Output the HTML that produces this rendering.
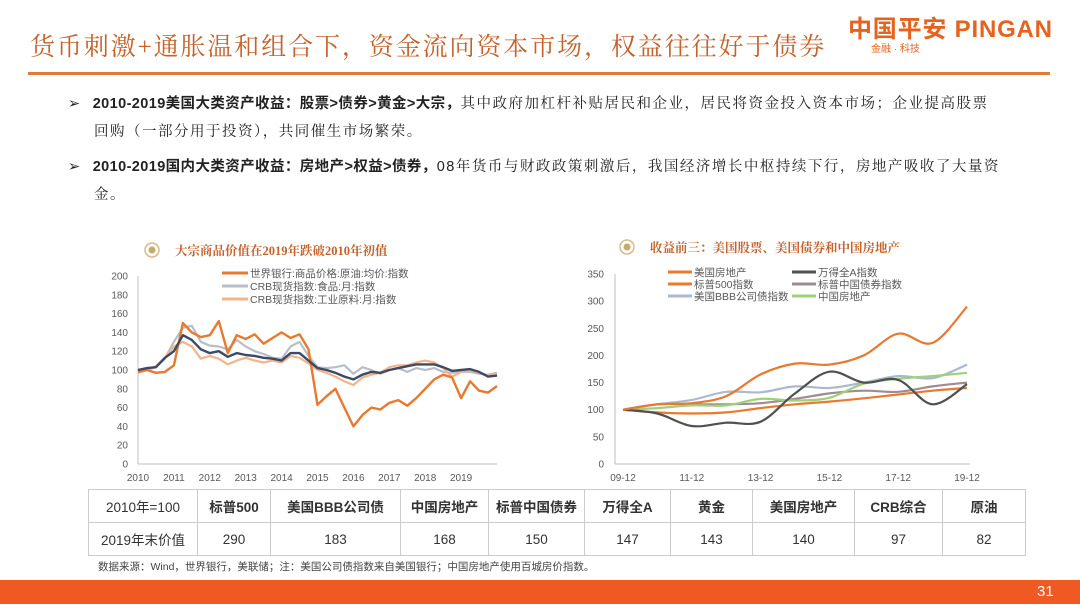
<!DOCTYPE html>
<html><head><meta charset="utf-8">
<style>
body{margin:0;width:1080px;height:608px;background:#fff;position:relative;overflow:hidden;font-family:"Liberation Sans","Noto Sans CJK SC",sans-serif;}
.abs{position:absolute;white-space:nowrap;}
.title{left:30px;top:27px;font-size:25px;color:#C3622B;font-family:"Liberation Serif","Noto Serif CJK SC",serif;letter-spacing:1.9px;}
.bul{font-size:14.5px;color:#222;font-family:"Liberation Sans","Noto Serif CJK SC",serif;letter-spacing:1.5px;}
.bul b{font-family:"Liberation Sans","Noto Sans CJK SC",sans-serif;letter-spacing:0.4px;}
table{position:absolute;left:88px;top:489px;border-collapse:collapse;font-size:13.5px;color:#333;}
td{border:1px solid #ccc;height:32px;text-align:center;padding:0;}
</style></head><body>
<div class="abs title">货币刺激+通胀温和组合下，资金流向资本市场，权益往往好于债券</div>
<div class="abs" style="left:848px;top:9px;font-size:24px;font-weight:bold;color:#E5621F;letter-spacing:0.8px">中国平安 PINGAN</div>
<div class="abs" style="left:871px;top:40px;font-size:10px;color:#E5621F">金融 · 科技</div>
<div class="abs" style="left:28px;top:72px;width:1022px;height:3px;background:#E07B39"></div>

<div class="abs bul" style="left:68px;top:92px">➢ &nbsp;<b>2010-2019美国大类资产收益：股票&gt;债券&gt;黄金&gt;大宗，</b>其中政府加杠杆补贴居民和企业，居民将资金投入资本市场；企业提高股票</div>
<div class="abs bul" style="left:94px;top:120px">回购（一部分用于投资），共同催生市场繁荣。</div>
<div class="abs bul" style="left:68px;top:155px">➢ &nbsp;<b>2010-2019国内大类资产收益：房地产&gt;权益&gt;债券，</b>08年货币与财政政策刺激后，我国经济增长中枢持续下行，房地产吸收了大量资</div>
<div class="abs bul" style="left:94px;top:183px">金。</div>

<svg id="charts" width="1080" height="608" style="position:absolute;left:0;top:0" font-family="Liberation Sans, Noto Sans CJK SC, sans-serif"></svg>

<table>
<tr><td style="width:108px">2010年=100</td><td style="width:72px;font-weight:bold">标普500</td><td style="width:129px;font-weight:bold">美国BBB公司债</td><td style="width:87px;font-weight:bold">中国房地产</td><td style="width:95px;font-weight:bold">标普中国债券</td><td style="width:85px;font-weight:bold">万得全A</td><td style="width:81px;font-weight:bold">黄金</td><td style="width:101px;font-weight:bold">美国房地产</td><td style="width:87px;font-weight:bold">CRB综合</td><td style="width:82px;font-weight:bold">原油</td></tr>
<tr><td>2019年末价值</td><td>290</td><td>183</td><td>168</td><td>150</td><td>147</td><td>143</td><td>140</td><td>97</td><td>82</td></tr>
</table>
<div class="abs" style="left:98px;top:559px;font-size:10.5px;color:#444">数据来源：Wind，世界银行，美联储；注：美国公司债指数来自美国银行；中国房地产使用百城房价指数。</div>
<div class="abs" style="left:0;top:580px;width:1080px;height:24px;background:#F05A22"></div>
<div class="abs" style="left:1037px;top:583px;font-size:15px;color:#fff">31</div>

<script>
// Left chart data (quarterly, 2010.0 .. 2020.0)
const leftYears = ['2010','2011','2012','2013','2014','2015','2016','2017','2018','2019'];
const leftTicks = [0,20,40,60,80,100,120,140,160,180,200];
const oil = [98,100,97,98,105,150,140,135,137,152,118,137,133,138,128,134,140,134,138,122,63,72,80,60,40,52,60,58,65,68,62,70,80,90,95,92,70,88,78,76,83];
const food = [100,100,103,112,130,145,147,130,126,125,122,132,125,120,117,113,112,125,130,115,103,102,103,105,96,103,100,96,100,102,98,102,100,102,98,97,98,98,96,95,97];
const industrial = [97,100,104,113,125,130,125,112,115,112,106,110,113,110,108,110,108,115,113,107,100,97,93,88,84,92,95,97,103,105,105,108,110,108,102,93,98,100,97,94,95];
const composite = [100,102,103,113,120,137,132,122,118,120,114,118,116,115,113,112,110,118,118,110,102,100,97,93,90,95,98,97,100,102,104,106,106,106,103,99,100,101,98,93,94];

// Right chart data (annual, 09-12 .. 19-12)
const rightLabels = ['09-12','11-12','13-12','15-12','17-12','19-12'];
const rightTicks = [0,50,100,150,200,250,300,350];
const sp500 = [100,110,112,125,165,185,183,200,240,223,290];
const usRealEstate = [100,95,93,95,103,110,115,121,128,135,140];
const windA = [100,93,70,76,78,130,170,150,155,110,147];
const spChinaBond = [100,110,110,110,112,120,130,135,133,143,150];
const usBBB = [100,110,118,133,132,143,140,150,162,158,183];
const chinaRE = [100,103,108,108,120,117,122,148,157,162,168];

const svg = document.getElementById('charts');
const NS = 'http://www.w3.org/2000/svg';
function mk(tag, attrs, parent){const e=document.createElementNS(NS,tag);for(const k in attrs)e.setAttribute(k,attrs[k]);(parent||svg).appendChild(e);return e;}
function txt(x,y,s,attrs){const e=mk('text',Object.assign({x:x,y:y,'font-size':10,fill:'#595959'},attrs||{}));e.textContent=s;return e;}

// ---------- Left chart ----------
const lx = v => 138 + (v-2010)*35.9;
const ly = v => 464 - v*0.94;
const lg = mk('g',{});


mk('circle',{cx:152,cy:250,r:7,fill:'none',stroke:'#D9B98A','stroke-width':1.5},lg);
mk('circle',{cx:152,cy:250,r:3.5,fill:'#C9A96A'},lg);
const lt = txt(175,255,'大宗商品价值在2019年跌破2010年初值',{'font-size':12.5,fill:'#C3622B','font-weight':'bold','font-family':'Liberation Serif, Noto Serif CJK SC, serif'});


mk('line',{x1:138,y1:276,x2:138,y2:464,stroke:'#bfbfbf'},lg);
mk('line',{x1:138,y1:464,x2:497,y2:464,stroke:'#bfbfbf'},lg);
leftTicks.forEach(t=>{const e=txt(128,ly(t)+3.5,String(t),{'text-anchor':'end'});});
leftYears.forEach(y=>{const e=txt(lx(+y),481,y,{'text-anchor':'middle'});});
function lline(arr,color,w,name){const d=arr.map((v,i)=>(i?'L':'M')+lx(2010+i/4).toFixed(1)+','+ly(v).toFixed(1)).join('');const p=mk('path',{d:d,fill:'none',stroke:color,'stroke-width':w,'stroke-linejoin':'round'},lg);}
lline(food,'#B8BEC8',2.2,'line-crb-food');
lline(industrial,'#F4B48A',2.2,'line-crb-industrial');
lline(oil,'#E8792F',2.4,'line-oil');
lline(composite,'#3C4A66',2.4,'line-crb-composite');
[['世界银行:商品价格:原油:均价:指数','#E8792F'],['CRB现货指数:食品:月:指数','#B8BEC8'],['CRB现货指数:工业原料:月:指数','#F4B48A']].forEach((l,i)=>{
  const y=273+i*13;
  mk('line',{x1:222,y1:y,x2:248,y2:y,stroke:l[1],'stroke-width':3},lg);
  const e=txt(250,y+4,l[0],{'font-size':10.5});
});

// ---------- Right chart ----------
const rx = i => 623 + i*34.4;
const ry = v => 464 - v*0.5429;
const rg = mk('g',{});


mk('circle',{cx:627,cy:247,r:7,fill:'none',stroke:'#D9B98A','stroke-width':1.5},rg);
mk('circle',{cx:627,cy:247,r:3.5,fill:'#C9A96A'},rg);
const rt = txt(650,252,'收益前三：美国股票、美国债券和中国房地产',{'font-size':12.5,fill:'#C3622B','font-weight':'bold','font-family':'Liberation Serif, Noto Serif CJK SC, serif'});


mk('line',{x1:615,y1:274,x2:615,y2:464,stroke:'#bfbfbf'},rg);
mk('line',{x1:615,y1:464,x2:970,y2:464,stroke:'#bfbfbf'},rg);
rightTicks.forEach(t=>{const e=txt(604,ry(t)+3.5,String(t),{'text-anchor':'end'});});
rightLabels.forEach((s,i)=>{const e=txt(rx(i*2),481,s,{'text-anchor':'middle'});});
function smooth(arr){const p=arr.map((v,i)=>[rx(i),ry(v)]);let d='M'+p[0][0]+','+p[0][1];
  for(let i=0;i<p.length-1;i++){const p0=p[i-1]||p[i],p1=p[i],p2=p[i+1],p3=p[i+2]||p2;
    const c1=[p1[0]+(p2[0]-p0[0])/6,p1[1]+(p2[1]-p0[1])/6],c2=[p2[0]-(p3[0]-p1[0])/6,p2[1]-(p3[1]-p1[1])/6];
    d+='C'+c1[0].toFixed(1)+','+c1[1].toFixed(1)+' '+c2[0].toFixed(1)+','+c2[1].toFixed(1)+' '+p2[0].toFixed(1)+','+p2[1].toFixed(1);}
  return d;}
function rline(arr,color,name){const p=mk('path',{d:smooth(arr),fill:'none',stroke:color,'stroke-width':2.2},rg);}
rline(usBBB,'#AAB8D0','line-us-bbb');
rline(spChinaBond,'#A08C90','line-sp-china-bond');
rline(chinaRE,'#9FD07A','line-china-real-estate');
rline(usRealEstate,'#E8792F','line-us-real-estate');
rline(windA,'#505050','line-wind-a');
rline(sp500,'#E8792F','line-sp500');
[['美国房地产','#E8792F',668,272],['万得全A指数','#505050',792,272],['标普500指数','#E8792F',668,284],['标普中国债券指数','#A08C90',792,284],['美国BBB公司债指数','#AAB8D0',668,296],['中国房地产','#9FD07A',792,296]].forEach(l=>{
  mk('line',{x1:l[2],y1:l[3],x2:l[2]+24,y2:l[3],stroke:l[1],'stroke-width':3},rg);
  const e=txt(l[2]+26,l[3]+4,l[0],{'font-size':10.5});
});
</script>
</body></html>
